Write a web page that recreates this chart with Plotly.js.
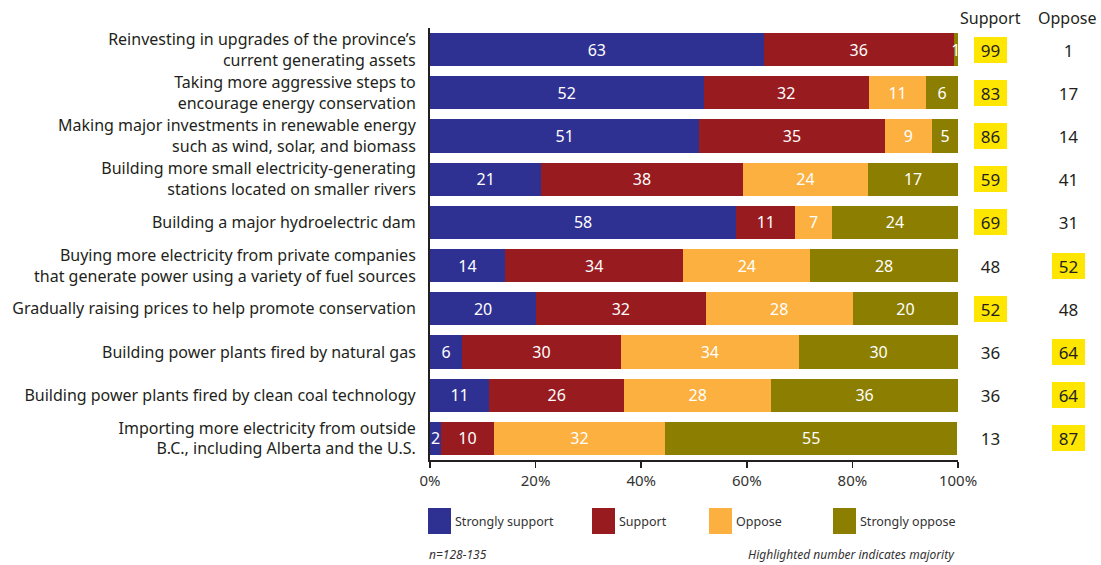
<!DOCTYPE html>
<html>
<head>
<meta charset="utf-8">
<script src="https://cdn.plot.ly/plotly-3.0.1.min.js"></script>
<style>html,body{margin:0;padding:0;background:#fff;}#chart{width:1101px;height:565px;}</style>
</head>
<body>
<div id="chart"></div>
<script>
// ---- Data ----
const categories = [
  "Reinvesting in upgrades of the province’s<br>current generating assets",
  "Taking more aggressive steps to<br>encourage energy conservation",
  "Making major investments in renewable energy<br>such as wind, solar, and biomass",
  "Building more small electricity-generating<br>stations located on smaller rivers",
  "Building a major hydroelectric dam",
  "Buying more electricity from private companies<br>that generate power using a variety of fuel sources",
  "Gradually raising prices to help promote conservation",
  "Building power plants fired by natural gas",
  "Building power plants fired by clean coal technology",
  "Importing more electricity from outside<br>B.C., including Alberta and the U.S."
];
const seriesNames = ["Strongly support", "Support", "Oppose", "Strongly oppose"];
// bar widths (percent)
const strongSupport = [63.2, 51.8, 51.0, 21.1, 58.0, 14.2, 20.1, 6.1, 11.2, 2.1];
const support       = [36.0, 31.3, 35.1, 38.1, 11.2, 33.8, 32.1, 30.0, 25.6, 10.0];
const oppose        = [0,    10.9,  9.0, 23.8,  6.9, 24.0, 27.9, 33.8, 27.8, 32.4];
const strongOppose  = [0.8,   6.0,  4.9, 17.0, 23.9, 28.0, 19.9, 30.1, 35.4, 55.4];
// printed labels on the segments
const strongSupportLabels = ["63","52","51","21","58","14","20","6","11","2"];
const supportLabels       = ["36","32","35","38","11","34","32","30","26","10"];
const opposeLabels        = ["","11","9","24","7","24","28","34","28","32"];
const strongOpposeLabels  = ["1","6","5","17","24","28","20","30","36","55"];
// totals shown on the right
const totalSupport = [99, 83, 86, 59, 69, 48, 52, 36, 36, 13];
const totalOppose  = [1, 17, 14, 41, 31, 52, 48, 64, 64, 87];
const xTickVals = [0, 20, 40, 60, 80, 100];
const xTickText = ["0%", "20%", "40%", "60%", "80%", "100%"];
const footLeft = "n=128-135";
const footRight = "Highlighted number indicates majority";

// ---- Styles ----
const colors = ["#2E3192", "#981B20", "#FBB040", "#8C7E00"];
const highlight = "#FFE600";
const textDark = "#231F20";
const FONT = "Noto Sans, Open Sans, sans-serif";

const values = [strongSupport, support, oppose, strongOppose];
const labels = [strongSupportLabels, supportLabels, opposeLabels, strongOpposeLabels];

const traces = values.map((v, k) => ({
  type: "bar",
  orientation: "h",
  name: seriesNames[k],
  x: v,
  y: categories,
  text: labels[k],
  texttemplate: "%{text}",
  textposition: "inside",
  insidetextanchor: "middle",
  textangle: 0,
  cliponaxis: false,
  textfont: {color: "#ffffff", size: 16, family: FONT},
  marker: {color: colors[k], line: {width: 0}},
  hoverinfo: "skip",
  showlegend: false
}));

// plot area geometry (pixels)
const W = 1101, H = 565;
const L = 430, R = 143, T = 28, B = 105;
const pw = W - L - R;
const ph = H - T - B;
const px = x => (x - L) / pw;           // pixel x -> paper
const py = y => 1 - (y - T) / ph;       // pixel y -> paper

const annotations = [];
// column headers
annotations.push({xref: "paper", yref: "paper", x: px(990), y: py(18), text: "Support", showarrow: false,
  font: {size: 16, color: textDark, family: FONT}, xanchor: "center", yanchor: "middle"});
annotations.push({xref: "paper", yref: "paper", x: px(1067), y: py(18), text: "Oppose", showarrow: false,
  font: {size: 16, color: textDark, family: FONT}, xanchor: "center", yanchor: "middle"});
// totals
categories.forEach((c, i) => {
  const s = totalSupport[i], o = totalOppose[i];
  annotations.push({xref: "paper", yref: "y", x: px(990.5), y: c, text: String(s), showarrow: false,
    font: {size: 17, color: textDark, family: FONT}, xanchor: "center", yanchor: "middle",
    bgcolor: s > 50 ? highlight : "rgba(0,0,0,0)", width: 33, height: 26, borderpad: 0, borderwidth: 0});
  annotations.push({xref: "paper", yref: "y", x: px(1068), y: c, text: String(o), showarrow: false,
    font: {size: 17, color: textDark, family: FONT}, xanchor: "center", yanchor: "middle",
    bgcolor: o > 50 ? highlight : "rgba(0,0,0,0)", width: 33, height: 26, borderpad: 0, borderwidth: 0});
});

// custom legend
const legendX = [428, 592, 709, 833];
const shapes = [];
seriesNames.forEach((n, k) => {
  shapes.push({type: "rect", xref: "paper", yref: "paper",
    x0: px(legendX[k]), x1: px(legendX[k] + 23), y0: py(534), y1: py(508),
    fillcolor: colors[k], line: {width: 0}});
  annotations.push({xref: "paper", yref: "paper", x: px(legendX[k] + 25), y: py(521), text: n,
    showarrow: false, xanchor: "left", yanchor: "middle",
    font: {size: 12.5, color: "#333333", family: FONT}});
});
// footnotes
annotations.push({xref: "paper", yref: "paper", x: px(427), y: py(554), text: "<i>" + footLeft + "</i>",
  showarrow: false, xanchor: "left", yanchor: "middle", font: {size: 12, color: "#333333", family: FONT}});
annotations.push({xref: "paper", yref: "paper", x: px(957), y: py(554), text: "<i>" + footRight + "</i>",
  showarrow: false, xanchor: "right", yanchor: "middle", font: {size: 12, color: "#333333", family: FONT}});

const layout = {
  width: W, height: H,
  margin: {l: L, r: R, t: T, b: B, pad: 0},
  paper_bgcolor: "#ffffff", plot_bgcolor: "#ffffff",
  barmode: "stack",
  bargap: 0.235,
  uniformtext: {minsize: 16, mode: "show"},
  showlegend: false,
  font: {family: FONT, color: textDark},
  xaxis: {
    range: [0, 100], tickvals: xTickVals, ticktext: xTickText,
    showgrid: false, zeroline: false, showline: true, linecolor: "#231F20", linewidth: 1.5,
    ticks: "outside", ticklen: 6, tickwidth: 1.5, tickcolor: "#231F20",
    tickfont: {size: 15, color: "#333333", family: FONT}, fixedrange: true
  },
  yaxis: {
    autorange: "reversed", showgrid: false, zeroline: false,
    showline: true, linecolor: "#231F20", linewidth: 2,
    ticks: "", ticklabelstandoff: 9,
    tickfont: {size: 16, color: textDark, family: FONT}, fixedrange: true
  },
  annotations: annotations,
  shapes: shapes,
  hovermode: false
};

Plotly.newPlot("chart", traces, layout, {displayModeBar: false, staticPlot: true});
</script>
</body>
</html>
